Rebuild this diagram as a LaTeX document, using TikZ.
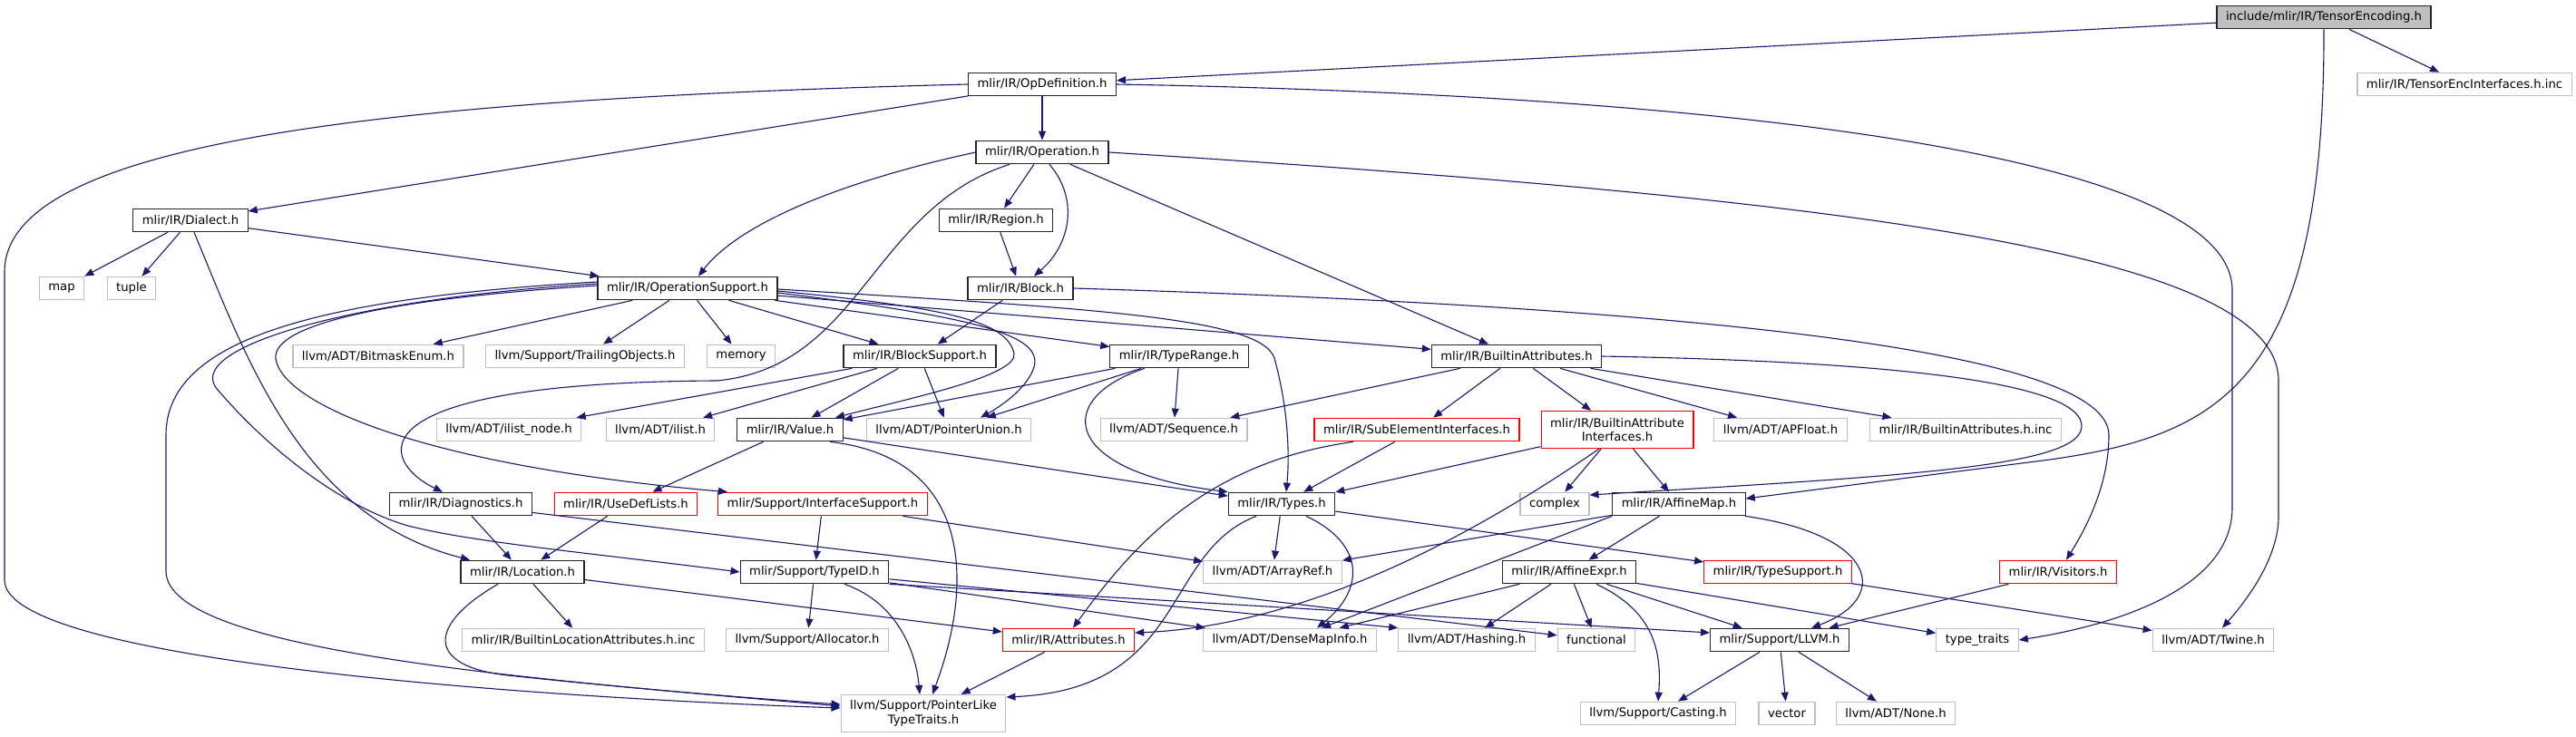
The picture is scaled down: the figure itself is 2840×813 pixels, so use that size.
\documentclass[tikz,border=0pt]{standalone}
\usepackage{fontspec}
\setmainfont{DejaVu Sans}
\usepackage{tikz}
\usetikzlibrary{arrows.meta}
\definecolor{depblue}{HTML}{191970}
\definecolor{sysgray}{HTML}{BFBFBF}
\definecolor{cutred}{HTML}{FF0000}
\definecolor{rootgray}{HTML}{BFBFBF}

\begin{document}
\begin{tikzpicture}[
  x=1pt, y=-1pt,
  hdr/.style={draw=black!85, line width=1.2pt, inner xsep=10pt, inner ysep=0pt,
              minimum height=25.5pt, align=center,
              font=\fontsize{13.2}{15.5}\selectfont},
  syshdr/.style={hdr, draw=sysgray},
  cuthdr/.style={hdr, draw=cutred},
  roothdr/.style={hdr, fill=rootgray},
  dep/.style={draw=depblue, line width=1.1pt, -{Stealth[length=10pt,width=8pt,inset=0pt]}}
]
  \path[use as bounding box, fill=white] (0,0) rectangle (2840,813);

  \node[roothdr] (root)      at (2562,19)  {include/mlir/IR/TensorEncoding.h};
  \node[hdr]     (opdef)     at (1149,93)  {mlir/IR/OpDefinition.h};
  \node[syshdr]  (tencinc)   at (2717,93)  {mlir/IR/TensorEncInterfaces.h.inc};
  \node[hdr]     (operation) at (1149,168) {mlir/IR/Operation.h};
  \node[hdr]     (dialect)   at (210,243)  {mlir/IR/Dialect.h};
  \node[hdr]     (region)    at (1098,243) {mlir/IR/Region.h};
  \node[syshdr]  (map)       at (68,318)   {map};
  \node[syshdr]  (tuple)     at (145,318)  {tuple};
  \node[hdr]     (opsupport) at (758,318)  {mlir/IR/OperationSupport.h};
  \node[hdr]     (block)     at (1125,318) {mlir/IR/Block.h};
  \node[syshdr]  (bitmask)   at (417,393)  {llvm/ADT/BitmaskEnum.h};
  \node[syshdr]  (trailing)  at (645,393)  {llvm/Support/TrailingObjects.h};
  \node[syshdr]  (memory)    at (817,393)  {memory};
  \node[hdr]     (blocksupport) at (1014,393) {mlir/IR/BlockSupport.h};
  \node[hdr]     (typerange) at (1300,393) {mlir/IR/TypeRange.h};
  \node[hdr]     (battrs)    at (1672,393) {mlir/IR/BuiltinAttributes.h};
  \node[syshdr]  (ilistnode) at (561,474)  {llvm/ADT/ilist\_node.h};
  \node[syshdr]  (ilist)     at (728,474)  {llvm/ADT/ilist.h};
  \node[hdr]     (value)     at (871,474)  {mlir/IR/Value.h};
  \node[syshdr]  (ptrunion)  at (1046,474) {llvm/ADT/PointerUnion.h};
  \node[syshdr]  (sequence)  at (1294,474) {llvm/ADT/Sequence.h};
  \node[cuthdr]  (subelem)   at (1562,474) {mlir/IR/SubElementInterfaces.h};
  \node[cuthdr, minimum height=41pt] (battrif) at (1783,474) {mlir/IR/BuiltinAttribute\\Interfaces.h};
  \node[syshdr]  (apfloat)   at (1963,474) {llvm/ADT/APFloat.h};
  \node[syshdr]  (battrsinc) at (2167,474) {mlir/IR/BuiltinAttributes.h.inc};
  \node[hdr]     (diag)      at (508,556)  {mlir/IR/Diagnostics.h};
  \node[cuthdr]  (usedef)    at (690,556)  {mlir/IR/UseDefLists.h};
  \node[cuthdr]  (ifsupport) at (907,556)  {mlir/Support/InterfaceSupport.h};
  \node[hdr]     (types)     at (1413,556) {mlir/IR/Types.h};
  \node[syshdr]  (complex)   at (1714,556) {complex};
  \node[hdr]     (affinemap) at (1851,556) {mlir/IR/AffineMap.h};
  \node[hdr]     (location)  at (576,631)  {mlir/IR/Location.h};
  \node[hdr]     (typeid)    at (898,631)  {mlir/Support/TypeID.h};
  \node[syshdr]  (arrayref)  at (1403,631) {llvm/ADT/ArrayRef.h};
  \node[hdr]     (affineexpr) at (1730,631) {mlir/IR/AffineExpr.h};
  \node[cuthdr]  (typesupport) at (1960,631) {mlir/IR/TypeSupport.h};
  \node[cuthdr]  (visitors)  at (2269,631) {mlir/IR/Visitors.h};
  \node[syshdr]  (blocattrs) at (643,706)  {mlir/IR/BuiltinLocationAttributes.h.inc};
  \node[syshdr]  (allocator) at (890,706)  {llvm/Support/Allocator.h};
  \node[cuthdr]  (attributes) at (1178,706) {mlir/IR/Attributes.h};
  \node[syshdr]  (densemap)  at (1422,706) {llvm/ADT/DenseMapInfo.h};
  \node[syshdr]  (hashing)   at (1617,706) {llvm/ADT/Hashing.h};
  \node[syshdr]  (functional) at (1760,706) {functional};
  \node[hdr]     (llvmh)     at (1962,706) {mlir/Support/LLVM.h};
  \node[syshdr]  (typetraits) at (2180,706) {type\_traits};
  \node[syshdr]  (twine)     at (2440,706) {llvm/ADT/Twine.h};
  \node[syshdr, minimum height=41pt] (ptrlike) at (1018,787) {llvm/Support/PointerLike\\TypeTraits.h};
  \node[syshdr]  (casting)   at (1828,787) {llvm/Support/Casting.h};
  \node[syshdr]  (vector)    at (1970,787) {vector};
  \node[syshdr]  (none)      at (2090,787) {llvm/ADT/None.h};

  \foreach \a/\b in {root/opdef, root/tencinc, opdef/operation, opdef/dialect,
      operation/region, operation/battrs, dialect/map, dialect/tuple, dialect/opsupport,
      region/block, block/blocksupport,
      opsupport/bitmask, opsupport/trailing, opsupport/memory, opsupport/blocksupport,
      opsupport/typerange, opsupport/battrs,
      blocksupport/ilistnode, blocksupport/ilist, blocksupport/value, blocksupport/ptrunion,
      typerange/value, typerange/ptrunion, typerange/sequence,
      battrs/sequence, battrs/subelem, battrs/battrif, battrs/apfloat, battrs/battrsinc,
      subelem/types, battrif/types, battrif/complex, battrif/affinemap,
      diag/location, diag/functional, usedef/location, ifsupport/typeid, ifsupport/arrayref,
      value/usedef, value/types, types/arrayref, types/typesupport,
      affinemap/affineexpr, affinemap/arrayref,
      location/blocattrs, location/attributes, typeid/allocator, typeid/densemap,
      attributes/ptrlike, affineexpr/densemap, affineexpr/hashing, affineexpr/functional,
      affineexpr/llvmh, affineexpr/typetraits, typesupport/twine, visitors/llvmh,
      llvmh/casting, llvmh/vector, llvmh/none}
    \draw[dep] (\a) -- (\b);

  \draw[dep] (typeid) -- (hashing.north west);
  \draw[dep] (typeid.south east) -- ([yshift=8pt]llvmh.west);
  \draw[dep] (affinemap.south west) -- ([xshift=35pt]densemap.north);

  % long routes round the sides
  \draw[dep] (root.south) .. controls (2563,420) and (2450,480) .. (2260,507)
    -- ([yshift=6pt]affinemap.east);
  \draw[dep] (opdef.west) .. controls (400,110) and (5,160) .. (5,300) -- (5,640)
    .. controls (5,730) and (600,770) .. ([yshift=6pt]ptrlike.west);
  \draw[dep] (opdef.east) .. controls (1900,105) and (2461,170) .. (2461,320) -- (2461,560)
    .. controls (2461,650) and (2330,690) .. (typetraits.east);
  \draw[dep] (operation.east) .. controls (2050,220) and (2512,280) .. (2512,420) -- (2512,570)
    .. controls (2512,620) and (2470,670) .. ([xshift=10pt]twine.north);
  \draw[dep] (block.east) .. controls (1900,340) and (2325,390) .. (2325,480)
    .. controls (2325,540) and (2295,590) .. ([xshift=9pt]visitors.north);
  \draw[dep] (battrs.east) .. controls (2150,400) and (2295,430) .. (2295,470)
    .. controls (2295,515) and (2100,525) .. ([yshift=10pt]complex.east);

  \draw[dep] ([xshift=8pt]operation.south) .. controls (1190,220) and (1180,270) .. ([xshift=15pt]block.north);
  \draw[dep] (operation.west) .. controls (950,195) and (820,240) .. ([xshift=12pt]opsupport.north);
  \draw[dep] ([xshift=-36pt]operation.south) .. controls (960,230) and (950,405) .. (790,420)
    .. controls (380,422) and (420,510) .. ([xshift=-20pt]diag.north);
  \draw[dep] ([xshift=4pt]dialect.south) .. controls (270,390) and (330,570) .. ([xshift=-58pt]location.north);

  \draw[dep] ([yshift=-3pt]opsupport.east) .. controls (1050,340) and (1110,355) .. (1118,390)
    .. controls (1122,415) and (1000,440) .. ([xshift=50pt]value.north);
  \draw[dep] ([yshift=-5pt]opsupport.east) .. controls (1080,350) and (1150,370) .. (1140,405)
    .. controls (1132,430) and (1100,450) .. ([xshift=35pt]ptrunion.north);
  \draw[dep] ([yshift=-1pt]opsupport.east) .. controls (1200,340) and (1390,350) .. (1405,395)
    .. controls (1420,450) and (1422,500) .. ([xshift=5pt]types.north);
  \draw[dep] ([yshift=3pt]opsupport.west) .. controls (420,330) and (290,360) .. (305,400)
    .. controls (320,450) and (480,515) .. ([xshift=-105pt]ifsupport.north);
  \draw[dep] ([yshift=5pt]opsupport.west) .. controls (380,330) and (200,385) .. (240,430)
    .. controls (300,500) and (380,560) .. (450,580)
    .. controls (520,598) and (650,610) .. (typeid.west);
  \draw[dep] ([yshift=7pt]opsupport.west) .. controls (330,330) and (183,380) .. (183,480) -- (183,630)
    .. controls (183,720) and (600,750) .. ([yshift=8pt]ptrlike.west);

  \draw[dep] ([xshift=-38pt]typerange.south) .. controls (1160,440) and (1170,520) .. (types.north west);
  \draw[dep] ([xshift=-70pt]subelem.south) .. controls (1330,510) and (1250,600) .. ([xshift=5pt]attributes.north);
  \draw[dep] ([xshift=-20pt]battrif.south) .. controls (1640,580) and (1450,690) .. ([yshift=8pt]attributes.east);
  \draw[dep] ([xshift=44pt]value.south) .. controls (1070,505) and (1075,640) .. ([xshift=10pt]ptrlike.north);
  \draw[dep] ([xshift=33pt]typeid.south) .. controls (990,665) and (1010,720) .. ([xshift=-4pt]ptrlike.north);
  \draw[dep] ([xshift=-27pt]location.south) .. controls (470,690) and (470,735) .. (560,745)
    .. controls (700,760) and (850,772) .. ([yshift=10pt]ptrlike.west);
  \draw[dep] ([xshift=27pt]types.south) .. controls (1505,600) and (1505,650) .. ([xshift=30pt]densemap.north);
  \draw[dep] ([xshift=-28pt]types.south) .. controls (1280,610) and (1310,760) .. ([yshift=18pt]ptrlike.east);
  \draw[dep] ([xshift=73pt]affinemap.south) .. controls (2070,590) and (2085,660) .. ([xshift=35pt]llvmh.north);
  \draw[dep] ([xshift=30pt]affineexpr.south) .. controls (1825,675) and (1832,720) .. (casting.north);
\end{tikzpicture}
\end{document}
